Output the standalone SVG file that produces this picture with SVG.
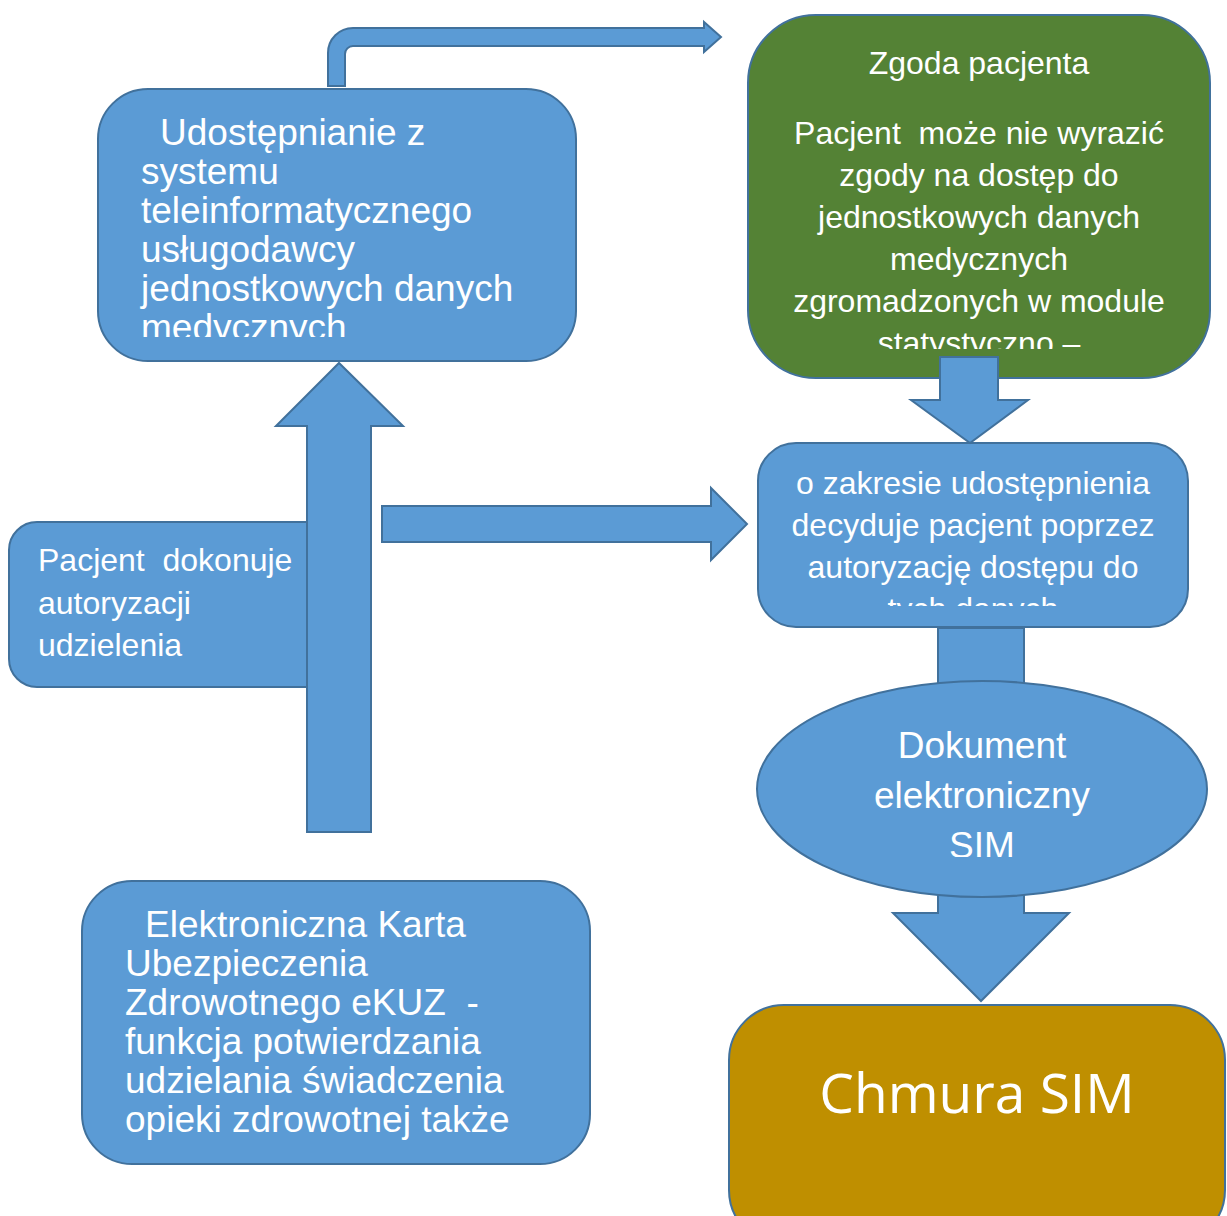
<svg xmlns="http://www.w3.org/2000/svg" width="1227" height="1216" viewBox="0 0 1227 1216">
<style>
.blue{fill:#5B9BD5;stroke:#41719C;stroke-width:2}
.green{fill:#548235;stroke:#41719C;stroke-width:2}
.gold{fill:#BF8F00;stroke:#41719C;stroke-width:2}
.t{fill:#FFFFFF;font-family:"Liberation Sans",Arial,sans-serif}
.t32{font-size:32px}
.t37{font-size:37px}
.mid{text-anchor:middle}
.cal{fill:#FFFFFF;font-family:"Open Sans","Noto Sans",sans-serif;font-size:55px;text-anchor:middle}
</style>
<defs>
<clipPath id="c1"><rect x="98" y="89" width="478" height="248"/></clipPath>
<clipPath id="c2"><rect x="748" y="15" width="462" height="334"/></clipPath>
<clipPath id="c3"><rect x="758" y="443" width="430" height="163"/></clipPath>
<clipPath id="c4"><rect x="757" y="681" width="450" height="176"/></clipPath>
</defs>
<rect width="1227" height="1216" fill="#FFFFFF"/>
<g id="nodes">
<g id="node-udostepnianie">
<rect class="blue" x="98" y="89" width="478" height="272" rx="50" ry="50"/>
<g clip-path="url(#c1)">
<text class="t t37" xml:space="preserve"><tspan x="160" y="145">Udostępnianie z</tspan><tspan x="141" y="184">systemu</tspan><tspan x="141" y="223">teleinformatycznego</tspan><tspan x="141" y="262">usługodawcy</tspan><tspan x="141" y="301">jednostkowych danych</tspan><tspan x="141" y="340">medycznych</tspan></text>
</g>
</g>
<g id="node-zgoda">
<rect class="green" x="748" y="15" width="462" height="363" rx="68" ry="68"/>
<g clip-path="url(#c2)">
<text class="t t32 mid" xml:space="preserve"><tspan x="979" y="74">Zgoda pacjenta</tspan><tspan x="979" y="144">Pacjent  może nie wyrazić</tspan><tspan x="979" y="186">zgody na dostęp do</tspan><tspan x="979" y="228">jednostkowych danych</tspan><tspan x="979" y="270">medycznych</tspan><tspan x="979" y="312">zgromadzonych w module</tspan><tspan x="979" y="354">statystyczno –</tspan></text>
</g>
</g>
<g id="node-zakres">
<rect class="blue" x="758" y="443" width="430" height="184" rx="38" ry="38"/>
<g clip-path="url(#c3)">
<text class="t t32 mid"><tspan x="973" y="494">o zakresie udostępnienia</tspan><tspan x="973" y="536">decyduje pacjent poprzez</tspan><tspan x="973" y="578">autoryzację dostępu do</tspan><tspan x="973" y="620">tych danych</tspan></text>
</g>
</g>
<g id="node-pacjent">
<rect class="blue" x="9" y="522" width="330" height="165" rx="28" ry="28"/>
<text class="t t32" xml:space="preserve"><tspan x="38" y="571">Pacjent  dokonuje</tspan><tspan x="38" y="614">autoryzacji</tspan><tspan x="38" y="656">udzielenia</tspan></text>
</g>
<g id="node-ekuz">
<rect class="blue" x="82" y="881" width="508" height="283" rx="50" ry="50"/>
<text class="t t37" xml:space="preserve"><tspan x="145" y="937">Elektroniczna Karta</tspan><tspan x="125" y="976">Ubezpieczenia</tspan><tspan x="125" y="1015">Zdrowotnego eKUZ  -</tspan><tspan x="125" y="1054">funkcja potwierdzania</tspan><tspan x="125" y="1093">udzielania świadczenia</tspan><tspan x="125" y="1132">opieki zdrowotnej także</tspan></text>
</g>
<g id="node-chmura">
<rect class="gold" x="729" y="1005" width="496" height="240" rx="55" ry="55"/>
<text class="cal" x="977" y="1113">Chmura SIM</text>
</g>
</g>
<g id="connectors">
<path class="blue" d="M328 86 L328 53 A25 25 0 0 1 353 28 L704 28 L704 22 L721 37 L704 52 L704 46 L353 46 A8 8 0 0 0 345 54 L345 86 Z"/>
<path class="blue" d="M307 832 L307 426 L276 426 L339 363 L403 426 L371 426 L371 832 Z"/>
<path class="blue" d="M382 506 L711 506 L711 488 L747 524 L711 560 L711 542 L382 542 Z"/>
<path class="blue" d="M940 357 L998 357 L998 400 L1028 400 L970 443 L911 400 L940 400 Z"/>
<rect class="blue" x="938" y="628" width="86" height="80"/>
<path class="blue" d="M938 870 L1024 870 L1024 913 L1069 913 L981 1001 L893 913 L938 913 Z"/>
</g>
<g id="node-dokument">
<ellipse class="blue" cx="982" cy="789" rx="225" ry="108"/>
<g clip-path="url(#c4)">
<text class="t t37 mid"><tspan x="982" y="758">Dokument</tspan><tspan x="982" y="808">elektroniczny</tspan><tspan x="982" y="858">SIM</tspan></text>
</g>
</g>
</svg>
